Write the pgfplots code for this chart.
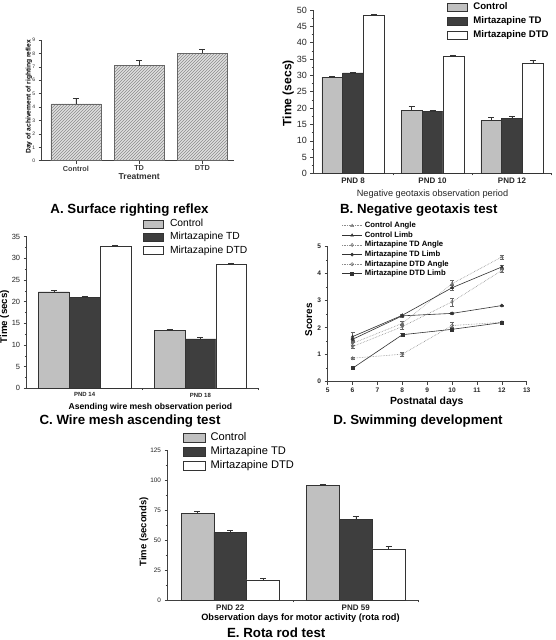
\documentclass[border=0pt]{standalone}
\usepackage{fontspec}
\setmainfont{Liberation Sans}
\usepackage{pgfplots}
\pgfplotsset{compat=1.18}
\usetikzlibrary{patterns}
\definecolor{ctrl}{RGB}{192,192,192}
\definecolor{tdc}{RGB}{62,62,62}
\pgfplotsset{
  panel/.style={scale only axis, anchor=south west, axis x line*=bottom, axis y line*=left,
    tick align=outside, axis line style={black!75, line width=0.5pt},
    tick style={black!75, line width=0.5pt}, major tick length=3pt, minor tick length=1.8pt,
    /pgf/number format/assume math mode=true, ticklabel style={text=black!85},
    legend cell align=left},
  barerr/.style={error bars/.cd, y dir=plus, y explicit,
    error bar style={black!80, line width=0.5pt},
    error mark options={rotate=90, mark size=3pt, black!80, line width=0.5pt}},
  lineerr/.style={error bars/.cd, y dir=both, y explicit,
    error bar style={solid, black!60, line width=0.4pt},
    error mark options={solid, rotate=90, mark size=2pt, black!60, line width=0.4pt}},
  angle/.style={densely dotted, color=black!45, line width=0.6pt, mark size=1.6pt,
    mark options={solid, fill=white, draw=black!55}},
  limb/.style={solid, color=black!80, line width=0.6pt, mark size=1.5pt,
    mark options={solid, fill=black!80, draw=black!80}},
}
\begin{document}
\begin{tikzpicture}
\fill[white] (0,0) rectangle (556pt,640pt);
\path[use as bounding box] (0,0) rectangle (556pt,640pt);

% ---------------- Panel A ----------------
\begin{axis}[panel, at={(41.7pt,479.3pt)}, width=192.3pt, height=120.7pt,
  xmin=-0.54, xmax=2.5, ymin=0, ymax=9, ytick={0,...,9},
  xtick={0,1,2}, xticklabels={Control,TD,DTD},
  yticklabel style={font=\fontsize{5}{6}\selectfont},
  xticklabel style={font=\fontsize{7.3}{8}\selectfont\bfseries, text=black!75, yshift=1.5pt}]
\addplot[ybar, bar width=50pt, fill=gray!25, draw=black!60,
  postaction={pattern=north east lines, pattern color=black!45}, barerr]
  coordinates {(0,4.23) +- (0,0.44) (1,7.09) +- (0,0.40) (2,8.01) +- (0,0.32)};
\end{axis}
\node[rotate=90, font=\fontsize{6.7}{8}\selectfont\bfseries] at (29pt,543.3pt) {Day of achivement of righting reflex};
\node[font=\fontsize{8.6}{10}\selectfont\bfseries, text=black!80] at (139.2pt,463pt) {Treatment};
\node[anchor=base, font=\fontsize{13.3}{15}\selectfont\bfseries] at (129.5pt,426.5pt) {A. Surface righting reflex};

% ---------------- Panel B ----------------
\begin{axis}[panel, at={(313.3pt,466.5pt)}, width=238.4pt, height=163.5pt,
  xmin=-0.5, xmax=2.5, ymin=0, ymax=50,
  ytick={0,5,...,50}, minor y tick num=1,
  xtick={0,1,2}, xticklabels={PND 8,PND 10,PND 12}, minor xtick={0.5,1.5,2.5},
  major x tick style={draw=none},
  yticklabel style={font=\fontsize{9}{10}\selectfont},
  xticklabel style={font=\fontsize{8}{9}\selectfont\bfseries, yshift=2.5pt},
  ybar=0pt, bar width=20.8pt,
  legend image code/.code={\draw[#1] (0pt,-4pt) rectangle (20pt,4pt);},
  legend style={at={(0.56,1.045)}, anchor=north west, draw=none, fill=none, inner sep=0pt,
    row sep=4.7pt, font=\fontsize{9.6}{11}\selectfont\bfseries,
    nodes={inner sep=0pt, text height=7pt, text depth=2pt},
    /tikz/every odd column/.append style={column sep=6pt}}]
\addplot[fill=ctrl, draw=black!80, barerr] coordinates {(0,29.5) +- (0,0.25) (1,19.3) +- (0,1.2) (2,16.2) +- (0,0.9)};
\addlegendentry{Control}
\addplot[fill=tdc, draw=black!80, barerr] coordinates {(0,30.8) +- (0,0.2) (1,19.1) +- (0,0.25) (2,16.9) +- (0,0.5)};
\addlegendentry{Mirtazapine TD}
\addplot[fill=white, draw=black!80, barerr] coordinates {(0,48.3) +- (0,0.35) (1,35.8) +- (0,0.3) (2,33.8) +- (0,0.7)};
\addlegendentry{Mirtazapine DTD}
\end{axis}
\node[rotate=90, font=\fontsize{12.1}{14}\selectfont\bfseries] at (288.3pt,546.7pt) {Time (secs)};
\node[font=\fontsize{9.2}{11}\selectfont, text=black!85] at (432.5pt,445.7pt) {Negative geotaxis observation period};
\node[anchor=base, font=\fontsize{13.3}{15}\selectfont\bfseries] at (418.8pt,426pt) {B. Negative geotaxis test};

% ---------------- Panel C ----------------
\begin{axis}[panel, at={(26.7pt,251.7pt)}, width=231.6pt, height=151.6pt,
  xmin=-0.5, xmax=1.5, ymin=0, ymax=35,
  ytick={0,5,...,35}, minor y tick num=1,
  xtick={0,1}, xticklabels={PND 14,PND 18}, minor xtick={0.5,1.5},
  major x tick style={draw=none},
  yticklabel style={font=\fontsize{7.5}{9}\selectfont},
  xticklabel style={font=\fontsize{6}{7}\selectfont\bfseries, yshift=2pt},
  ybar=0pt, bar width=30.8pt,
  legend image code/.code={\draw[#1] (0pt,-4pt) rectangle (20pt,4pt);},
  legend style={at={(0.502,1.117)}, anchor=north west, draw=none, fill=none, inner sep=0pt,
    row sep=3.6pt, font=\fontsize{10.3}{12}\selectfont,
    nodes={inner sep=0pt, text height=7.5pt, text depth=2.2pt},
    /tikz/every odd column/.append style={column sep=6.5pt}}]
\addplot[fill=ctrl, draw=black!80, barerr] coordinates {(0,22.3) +- (0,0.25) (1,13.3) +- (0,0.3)};
\addlegendentry{Control}
\addplot[fill=tdc, draw=black!80, barerr] coordinates {(0,21.0) +- (0,0.2) (1,11.4) +- (0,0.3)};
\addlegendentry{Mirtazapine TD}
\addplot[fill=white, draw=black!80, barerr] coordinates {(0,32.9) +- (0,0.2) (1,28.75) +- (0,0.2)};
\addlegendentry{Mirtazapine DTD}
\end{axis}
\node[rotate=90, font=\fontsize{9.7}{11}\selectfont\bfseries] at (4.5pt,323.3pt) {Time (secs)};
\node[font=\fontsize{8.6}{10}\selectfont\bfseries] at (150.3pt,232.3pt) {Asending wire mesh observation period};
\node[anchor=base, font=\fontsize{13.3}{15}\selectfont\bfseries] at (130pt,215.7pt) {C. Wire mesh ascending test};

% ---------------- Panel D ----------------
\begin{axis}[panel, at={(327.7pt,258.3pt)}, width=199pt, height=135pt,
  xmin=5, xmax=13, ymin=0, ymax=5, xtick={5,...,13}, ytick={0,...,5}, minor y tick num=1,
  ticklabel style={font=\fontsize{6.6}{8}\selectfont\bfseries},
  legend image code/.code={\draw[mark repeat=2, mark phase=2, #1] plot coordinates {(0pt,0pt) (10pt,0pt) (20pt,0pt)};},
  legend style={at={(0.07,1.183)}, anchor=north west, draw=none, fill=none, inner sep=0pt,
    row sep=2.4pt, font=\fontsize{7.7}{9}\selectfont\bfseries,
    nodes={inner sep=0pt, text height=5.6pt, text depth=1.6pt},
    /tikz/every odd column/.append style={column sep=2.5pt}}]
\addplot[angle, mark=triangle, lineerr] coordinates {(6,1.42) +- (0,0.06) (8,2.16) +- (0,0.08) (10,3.63) +- (0,0.12) (12,4.62) +- (0,0.08)};
\addlegendentry{Control Angle}
\addplot[limb, mark=triangle*, lineerr] coordinates {(6,1.67) +- (0,0.18) (8,2.46) +- (0,0.05) (10,3.48) +- (0,0.10) (12,4.25) +- (0,0.07)};
\addlegendentry{Control Limb}
\addplot[angle, mark=diamond, lineerr] coordinates {(6,1.30) +- (0,0.05) (8,2.04) +- (0,0.10) (10,2.96) +- (0,0.15) (12,4.12) +- (0,0.08)};
\addlegendentry{Mirtazapine TD Angle}
\addplot[limb, mark=*, lineerr] coordinates {(6,1.57) +- (0,0.05) (8,2.44) +- (0,0.04) (10,2.53) +- (0,0.04) (12,2.82) +- (0,0.03)};
\addlegendentry{Mirtazapine TD Limb}
\addplot[angle, mark=o, lineerr] coordinates {(6,0.87) +- (0,0.03) (8,1.02) +- (0,0.08) (10,2.08) +- (0,0.14) (12,2.20) +- (0,0.04)};
\addlegendentry{Mirtazapine DTD Angle}
\addplot[limb, mark=square*, lineerr] coordinates {(6,0.50) +- (0,0.03) (8,1.74) +- (0,0.04) (10,1.94) +- (0,0.06) (12,2.19) +- (0,0.03)};
\addlegendentry{Mirtazapine DTD Limb}
\end{axis}
\node[rotate=90, font=\fontsize{9.9}{11}\selectfont\bfseries] at (308.7pt,320pt) {Scores};
\node[font=\fontsize{10.4}{12}\selectfont\bfseries] at (426.7pt,237.7pt) {Postnatal days};
\node[anchor=base, font=\fontsize{13.3}{15}\selectfont\bfseries] at (418pt,215.5pt) {D. Swimming development};

% ---------------- Panel E ----------------
\begin{axis}[panel, at={(167.5pt,39.3pt)}, width=251pt, height=150.7pt,
  xmin=-0.5, xmax=1.5, ymin=0, ymax=125,
  ytick={0,25,...,125}, minor y tick num=1,
  xtick={0,1}, xticklabels={PND 22,PND 59}, minor xtick={0.5,1.5},
  major x tick style={draw=none},
  yticklabel style={font=\fontsize{6.4}{8}\selectfont},
  xticklabel style={font=\fontsize{8}{9}\selectfont\bfseries, yshift=2.5pt},
  ybar=0pt, bar width=32.8pt,
  legend image code/.code={\draw[#1] (0pt,-4.5pt) rectangle (22pt,4.5pt);},
  legend style={at={(0.059,1.116)}, anchor=north west, draw=none, fill=none, inner sep=0pt,
    row sep=3.4pt, font=\fontsize{11.1}{13}\selectfont,
    nodes={inner sep=0pt, text height=8pt, text depth=2.3pt},
    /tikz/every odd column/.append style={column sep=5.7pt}}]
\addplot[fill=ctrl, draw=black!80, barerr] coordinates {(0,72.5) +- (0,1.6) (1,95.7) +- (0,0.8)};
\addlegendentry{Control}
\addplot[fill=tdc, draw=black!80, barerr] coordinates {(0,56.7) +- (0,1.9) (1,67.5) +- (0,2.6)};
\addlegendentry{Mirtazapine TD}
\addplot[fill=white, draw=black!80, barerr] coordinates {(0,17.4) +- (0,1.1) (1,42.9) +- (0,2.2)};
\addlegendentry{Mirtazapine DTD}
\end{axis}
\node[rotate=90, font=\fontsize{9.5}{11}\selectfont\bfseries] at (144pt,108.3pt) {Time (seconds)};
\node[font=\fontsize{9.2}{11}\selectfont\bfseries] at (300.5pt,21.7pt) {Observation days for motor activity (rota rod)};
\node[anchor=base, font=\fontsize{13.3}{15}\selectfont\bfseries] at (276.2pt,2.2pt) {E. Rota rod test};
\end{tikzpicture}
\end{document}
